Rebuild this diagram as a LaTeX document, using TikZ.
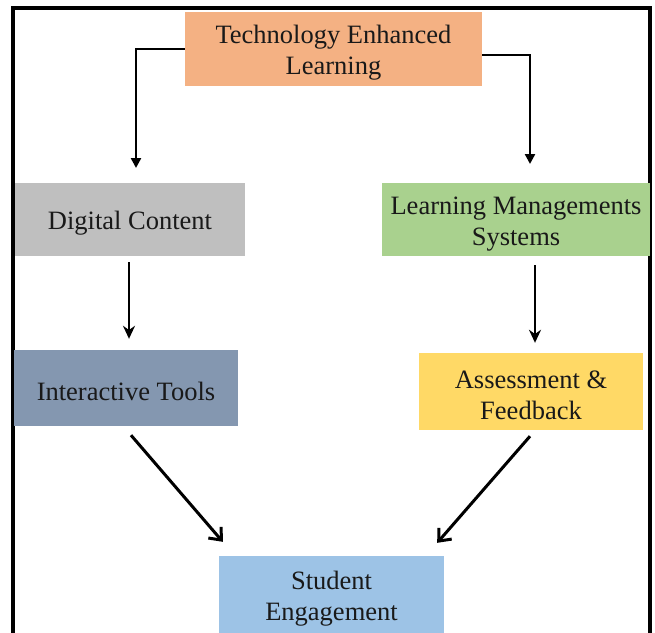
\documentclass[tikz,border=0pt]{standalone}
\usepackage{fontspec}
\setmainfont{Liberation Serif}
\usetikzlibrary{arrows.meta}

\definecolor{telorange}{HTML}{F4B183}
\definecolor{dcgray}{HTML}{BFBFBF}
\definecolor{lmsgreen}{HTML}{A9D18E}
\definecolor{itblue}{HTML}{8497B0}
\definecolor{afyellow}{HTML}{FFD966}
\definecolor{seblue}{HTML}{9DC3E6}

\tikzset{
	block/.style={inner sep=0pt, align=center, text=black!90,
		font=\fontsize{26.5}{31}\selectfont},
	onerow/.style={block, execute at begin node={\rule{0pt}{26pt}}},
	tworow/.style={block, execute at begin node={\rule{0pt}{57pt}}},
	elbow/.style={line width=2.4pt, arrows={-Triangle[length=10pt,width=10pt]}},
	drop/.style={line width=2.6pt, arrows={-Stealth[length=13pt,width=12pt]}},
	slant/.style={line width=3pt, arrows={-Straight Barb[length=10pt,width=17pt]}}
}

\begin{document}
\begin{tikzpicture}[x=1pt, y=-1pt]
	\clip (0,0) rectangle (655,632);
	\draw[line width=3.6pt] (13,8) rectangle (650,660);

	\node[tworow, fill=telorange, minimum width=297pt, minimum height=74pt] (tel) at (333.5,49) {Technology Enhanced\\Learning};
	\node[onerow, fill=dcgray, minimum width=230pt, minimum height=73pt] (dc) at (130,219.5) {Digital Content};
	\node[tworow, fill=lmsgreen, minimum width=268pt, minimum height=73pt] (lms) at (516,219.5) {Learning Managements\\Systems};
	\node[onerow, fill=itblue, minimum width=224pt, minimum height=76pt] (it) at (126,388) {Interactive Tools};
	\node[tworow, fill=afyellow, minimum width=224pt, minimum height=77pt] (af) at (531,391.5) {Assessment \&\\Feedback};
	\node[tworow, fill=seblue, minimum width=225pt, minimum height=78pt] (se) at (331.5,595) {Student\\Engagement};

	\coordinate (dcin) at (136,168);
	\coordinate (lmsin) at (530,164);

	\draw[elbow] (tel.west) -| (dcin);
	\draw[elbow] ([yshift=-6pt]tel.east) -| (lmsin);
	\draw[drop, shorten <=6pt, shorten >=11pt] ([xshift=-1pt]dc.south) -- ([xshift=-1pt]dc.south |- it.north);
	\draw[drop, shorten <=9pt, shorten >=10pt] ([xshift=4pt]af.north |- lms.south) -- ([xshift=4pt]af.north);
	\draw[slant] ([xshift=5pt,yshift=-9pt]it.south) -- ([xshift=4pt,yshift=14pt]se.north west);
	\draw[slant] ([xshift=-1pt,yshift=-6pt]af.south) -- ([xshift=-7pt,yshift=13pt]se.north east);
\end{tikzpicture}
\end{document}
